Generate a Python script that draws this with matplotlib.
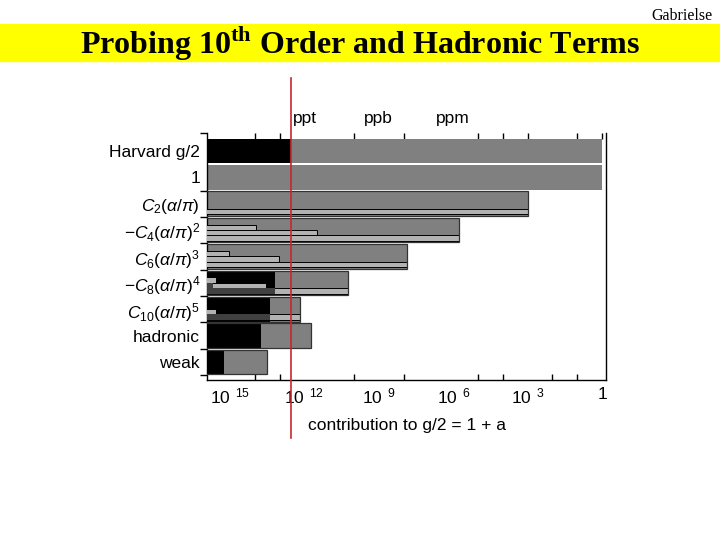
import numpy as np
import matplotlib
matplotlib.use('Agg')
import matplotlib.pyplot as plt
from matplotlib.ticker import NullFormatter

plt.rcParams['font.family'] = ['Liberation Sans', 'DejaVu Sans']
plt.rcParams['mathtext.fontset'] = 'custom'
plt.rcParams['mathtext.rm'] = 'Liberation Sans'
plt.rcParams['mathtext.it'] = 'Liberation Sans:italic'
plt.rcParams['mathtext.bf'] = 'Liberation Sans:bold'

# rows, top to bottom
rows = ['Harvard g/2', '1', r'$C_2(\alpha/\pi)$', r'$-C_4(\alpha/\pi)^2$',
        r'$C_6(\alpha/\pi)^3$', r'$-C_8(\alpha/\pi)^4$', r'$C_{10}(\alpha/\pi)^5$',
        'hadronic', 'weak']
# log10 of each contribution (grey bar)
size_log = [0.0, 0.0, -2.98, -5.77, -7.86, -10.24, -12.18, -11.73, -13.51]
# log10 of the uncertainty (black bar), nan = none
unc_log = [-12.54, np.nan, np.nan, np.nan, np.nan, -13.19, -13.39, -13.75, -15.24]
# smaller terms inside a row (light bars): row, slot, log10 value
sub_row = [2, 3, 3, 3, 4, 4, 4, 5, 5, 5, 6, 6]
sub_slot = [3, 1, 2, 3, 1, 2, 3, 1, 2, 3, 2, 3]
sub_log = [-2.98, -13.95, -11.49, -5.77, -15.04, -13.02, -7.86,
           -15.56, -13.55, -10.24, -15.56, -12.18]
# darker part of some light bars
dark_row = [5, 5, 6]
dark_slot = [2, 3, 3]
dark_log = [-15.69, -13.19, -13.39]
# experimental precision line
red_log = -12.54

# axis ticks
bottom_lab_pow = [-15, -12, -9, -6, -3, 0]
bottom_labels = [r'$\mathregular{10^{\;\;15}}$', r'$\mathregular{10^{\;\;12}}$',
                 r'$\mathregular{10^{\;\;9}}$', r'$\mathregular{10^{\;\;6}}$',
                 r'$\mathregular{10^{\;\;3}}$', '1']
bottom_marks = [-14, -13, -12, -10, -9, -8, -6, -5, -4, -2, -1, 0]
top_lab_pow = [-12, -9, -6]
top_labels = ['ppt', 'ppb', 'ppm']
top_marks = [-14, -13, -12, -10, -9, -8, -6, -5, -4, -3, -1, 0]

slot_off = {1: -0.10, 2: 0.10, 3: 0.30}

fig = plt.figure(figsize=(7.2, 5.4), dpi=100)

# slide header
fig.patches.append(plt.Rectangle((0, 1 - 61 / 540), 1, 37 / 540,
                                 transform=fig.transFigure, color='#ffff00', zorder=0))
fig.text(0.5, 1 - 44 / 540, r'Probing 10$^{\mathregular{th}}$ Order and Hadronic Terms',
         ha='center', va='center', fontsize=23, fontweight='bold',
         family='Liberation Serif')
fig.text(0.99, 1 - 16 / 540, 'Gabrielse', ha='right', va='center', fontsize=11.5,
         family='Liberation Serif')

ax = fig.add_axes([207 / 720, 1 - 380 / 540, 399 / 720, 247 / 540])
ax.set_xscale('log')
ax.set_xlim(10 ** -15.93, 10 ** 0.16)
ax.set_ylim(8.68, -0.68)

y = np.arange(len(rows))
xl = 1e-18
h = 0.93
ax.barh(y, 10.0 ** np.array(size_log) - xl, left=xl, height=h, color='#808080',
        edgecolor='none', zorder=2)

unc = np.array(unc_log)
ok = ~np.isnan(unc)
ax.barh(y[ok], 10.0 ** unc[ok] - xl, left=xl, height=h, color='black',
        edgecolor='none', zorder=3)

sy = np.array(sub_row) + np.array([slot_off[s] for s in sub_slot])
ax.barh(sy, 10.0 ** np.array(sub_log) - xl, left=xl, height=0.21, color='#b2b2b2',
        edgecolor='black', linewidth=0.7, zorder=4)

dy = np.array(dark_row) + np.array([slot_off[s] for s in dark_slot])
ax.barh(dy, 10.0 ** np.array(dark_log) - xl, left=xl, height=0.21, color='#404040',
        edgecolor='none', zorder=5)

# outlines of the lower rows
ax.barh(y[2:], 10.0 ** np.array(size_log[2:]) - xl, left=xl, height=h, fill=False,
        edgecolor='#333333', linewidth=0.9, zorder=6)

# red line reaching beyond the frame
ax.axvline(10 ** red_log, ymin=-0.235, ymax=1.223, color='#c8282d', lw=1.2,
           clip_on=False, zorder=10)

ax.spines['top'].set_visible(False)
for s in ['left', 'bottom', 'right']:
    ax.spines[s].set_linewidth(1.0)

ax.set_yticks(y, rows)
ax.set_yticks([-0.68, 1.5, 2.5, 3.5, 4.5, 5.5, 6.5, 7.5, 8.5], minor=True)
ax.tick_params(axis='y', which='major', length=0, pad=5, labelsize=12.5)
ax.tick_params(axis='y', which='minor', length=5, direction='out', width=1)

ax.set_xticks(10.0 ** np.array(bottom_lab_pow, dtype=float), bottom_labels)
ax.set_xticks(10.0 ** np.array(bottom_marks, dtype=float), minor=True)
ax.xaxis.set_minor_formatter(NullFormatter())
ax.tick_params(axis='x', which='major', length=0, pad=5, labelsize=12.5)
ax.tick_params(axis='x', which='minor', length=4, direction='in', width=1)
ax.set_xlabel('contribution to g/2 = 1 + a', fontsize=12.5, labelpad=8)

sec = ax.secondary_xaxis('top')
sec.set_xticks(10.0 ** np.array(top_lab_pow, dtype=float), top_labels)
sec.set_xticks(10.0 ** np.array(top_marks, dtype=float), minor=True)
sec.xaxis.set_minor_formatter(NullFormatter())
sec.spines['top'].set_visible(False)
sec.tick_params(axis='x', which='major', length=0, pad=5, labelsize=12.5)
sec.tick_params(axis='x', which='minor', length=4, direction='in', width=1)

fig.savefig('out.png', dpi=100)
